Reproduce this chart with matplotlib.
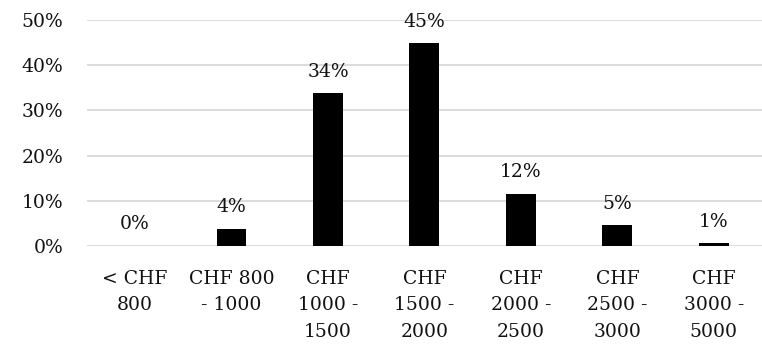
import matplotlib
matplotlib.use("Agg")
import matplotlib.pyplot as plt

categories = ["< CHF\n800", "CHF 800\n- 1000", "CHF\n1000 -\n1500", "CHF\n1500 -\n2000",
              "CHF\n2000 -\n2500", "CHF\n2500 -\n3000", "CHF\n3000 -\n5000"]
values = [0.0, 3.8, 33.8, 44.9, 11.6, 4.6, 0.6]
yticks = [0, 10, 20, 30, 40, 50]

plt.rcParams['font.family'] = ['DejaVu Serif']
fs = 13.5
tc = '#111111'

fig = plt.figure(figsize=(7.62, 3.45), dpi=100)
ax = fig.add_axes([0.114, 0.287, 0.886, 0.655])

x = range(len(categories))
ax.bar(x, values, width=0.31, color='black', zorder=3)
for xi, v in zip(x, values):
    ax.annotate(f"{v:.0f}%", (xi, v), xytext=(0, 9), textcoords='offset points',
                ha='center', va='bottom', fontsize=fs, color=tc)

ax.set_xlim(-0.5, len(categories) - 0.5)
ax.set_ylim(0, 50)
ax.set_yticks(yticks)
ax.set_yticklabels([f"{t}%" for t in yticks], fontsize=fs, color=tc)
ax.set_xticks(list(x))
ax.set_xticklabels(categories, fontsize=fs, color=tc, linespacing=1.62)
ax.tick_params(length=0)
ax.tick_params(axis='y', pad=17)
ax.tick_params(axis='x', pad=17)
ax.grid(axis='y', color='#d9d9d9', linewidth=1.3, zorder=0)
for s in ax.spines.values():
    s.set_visible(False)

fig.savefig("out.png", dpi=100)
